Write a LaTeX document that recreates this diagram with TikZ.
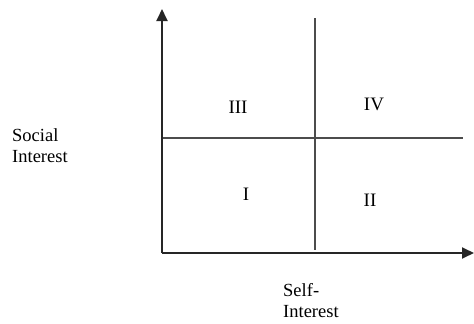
\documentclass[tikz,border=0pt]{standalone}
\usepackage{fontspec}
\setmainfont{Liberation Serif}
\usetikzlibrary{arrows.meta}
\begin{document}
\begin{tikzpicture}[x=1pt,y=-1pt,
  axis/.style={line width=1.8pt,draw=black!85,-{Triangle[width=11pt,length=12pt]}},
  divider/.style={line width=1.5pt,draw=black!70},
  lbl/.style={font=\fontsize{18.5}{21}\selectfont,inner sep=0pt,anchor=base west},
  quad/.style={font=\fontsize{19}{22}\selectfont,inner sep=0pt,anchor=base}]
\useasboundingbox (0,0) rectangle (474,324);
\coordinate (O) at (162,253);
\coordinate (ytip) at (162,9);
\coordinate (xtip) at (474,253);
\coordinate (vtop) at (315,18);
\coordinate (vbot) at (315,250);
\coordinate (hl) at (162,138);
\coordinate (hr) at (463,138);
\draw[divider] (vtop) -- (vbot);
\draw[divider] (hl) -- (hr);
\draw[axis] (O) -- (ytip);
\draw[axis] (O) -- (xtip);
\node[quad] (q3) at (238,113) {III};
\node[quad] (q4) at (374,110) {IV};
\node[quad] (q1) at (246,200) {I};
\node[quad] (q2) at (370,206) {II};
\node[lbl] (soc1) at (12,141) {Social};
\node[lbl] (soc2) at (12,162) {Interest};
\node[lbl] (self1) at (283,296) {Self-};
\node[lbl] (self2) at (283,317) {Interest};
\end{tikzpicture}
\end{document}
